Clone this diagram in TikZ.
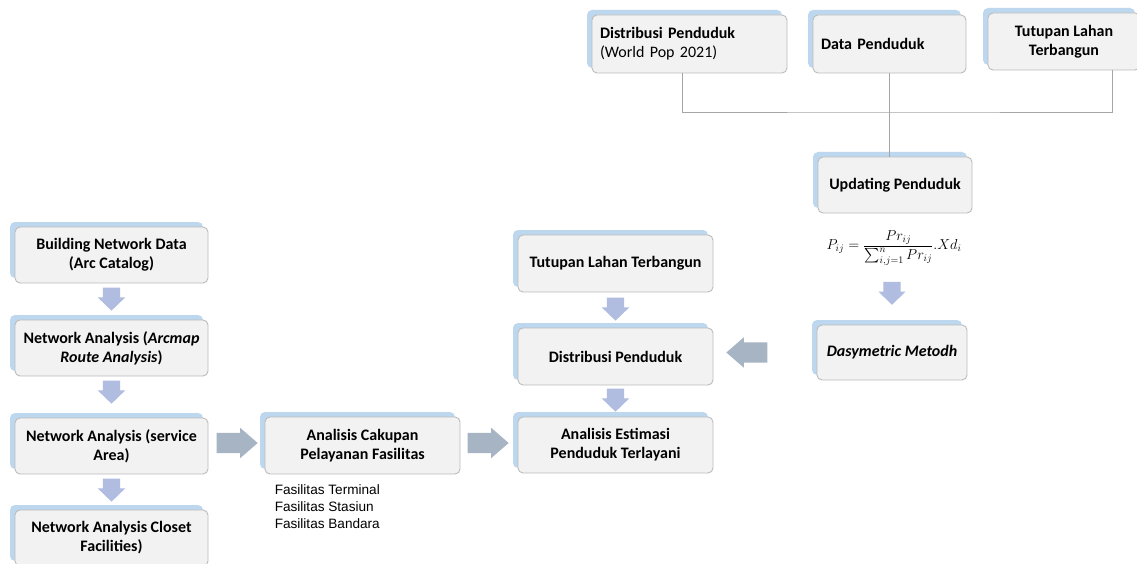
\documentclass[tikz,border=0pt]{standalone}
\usepackage{amsmath}
\usepackage{fontspec}
\setmainfont{Carlito}
\newfontfamily\listfont{Liberation Sans}
\usetikzlibrary{shapes.arrows,shadows,calc}

\definecolor{boxfill}{HTML}{F2F2F2}
\definecolor{boxline}{HTML}{BCBCBC}
\definecolor{boxshade}{HTML}{BDD7EE}
\definecolor{linkline}{HTML}{A6A6A6}
\definecolor{downfill}{HTML}{B0BCE0}
\definecolor{sidefill}{HTML}{A6B4C4}

\tikzset{
  stepbox/.style={draw=boxline, line width=0.9pt, fill=boxfill, rounded corners=5pt,
    font=\fontsize{16}{19}\selectfont\bfseries, align=center, inner sep=4pt,
    drop shadow={shadow xshift=-5pt, shadow yshift=5pt, fill=boxshade, opacity=1}},
  leftbox/.style={stepbox, align=left, inner xsep=8pt},
  downarrow/.style={single arrow, rotate=-90, anchor=tail, fill=downfill, draw=none,
    minimum height=23pt, minimum width=0pt, inner xsep=0pt, inner ysep=8.5pt,
    single arrow head extend=5pt, single arrow tip angle=92},
  sidearrow/.style={single arrow, anchor=tail, fill=sidefill, draw=none,
    minimum height=41pt, minimum width=0pt, inner xsep=0pt, inner ysep=10pt,
    single arrow head extend=5pt, single arrow tip angle=82},
  link/.style={draw=linkline, line width=0.9pt},
  listtext/.style={font=\listfont\fontsize{13.6}{16.8}\selectfont, align=left, inner sep=0pt}
}

\begin{document}
\begin{tikzpicture}[x=1pt, y=-1pt]
\useasboundingbox (0,0) rectangle (1137,564);
\fill[white] (0,0) rectangle (1137,564);
\clip (0,0) rectangle (1137,564);

% left column: network analysis chain
\node[stepbox, minimum width=193pt, minimum height=56pt] (bnd) at (111.5,255) {Building Network Data\\(Arc Catalog)};
\node[stepbox, minimum width=193pt, minimum height=56pt] (nar) at (111.5,348) {Network Analysis (\textit{Arcmap}\\\textit{Route Analysis})};
\node[stepbox, minimum width=193pt, minimum height=56pt] (nas) at (111.5,446) {Network Analysis (service\\Area)};
\node[stepbox, minimum width=193pt, minimum height=56pt] (nac) at (111.5,538) {Network Analysis Closet\\Facilities)};

% service coverage
\node[stepbox, minimum width=195pt, minimum height=57pt] (acp) at (362.5,445.5) {Analisis Cakupan\\Pelayanan Fasilitas};
\node[listtext, anchor=north west] (fac) at ($(acp.south west)+(10,10)$) {Fasilitas Terminal\\Fasilitas Stasiun\\Fasilitas Bandara};

% middle column
\node[stepbox, minimum width=195pt, minimum height=57pt] (tlm) at (615.5,263.5) {Tutupan Lahan Terbangun};
\node[stepbox, minimum width=195pt, minimum height=57pt] (dpm) at (615.5,356.5) {Distribusi Penduduk};
\node[stepbox, minimum width=195pt, minimum height=56pt] (aep) at (615.5,445) {Analisis Estimasi\\Penduduk Terlayani};

% population inputs
\node[leftbox, minimum width=195pt, minimum height=58pt, text width=179pt] (dist) at (689.5,44) {Distribusi Penduduk\\{\mdseries (World Pop 2021)}};
\node[leftbox, minimum width=153pt, minimum height=58pt, text width=137pt] (data) at (889.5,44) {Data Penduduk};
\node[stepbox, minimum width=152pt, minimum height=57pt] (tut) at (1064,41.5) {Tutupan Lahan\\Terbangun};

% population update and dasymetric method
\node[stepbox, minimum width=154pt, minimum height=56pt] (up) at (895,185) {Updating Penduduk};
\node[inner sep=0pt] (frm) at (894,248) {\fontsize{14.4}{17}\selectfont $P_{ij}=\dfrac{Pr_{ij}}{\sum\nolimits_{i,j=1}^{n}Pr_{ij}}.Xd_i$};
\node[stepbox, minimum width=150pt, minimum height=55pt] (dm) at (892,352.5) {\textit{Dasymetric Metodh}};

% thin connectors from the inputs
\coordinate (join) at (889.5,112);
\draw[link] ([xshift=-7.5pt]dist.south) |- (join) -| ([xshift=48pt]tut.south);
\draw[link] (data.south) -- (data.south |- up.north);

% block arrows
\node[downarrow] (a1) at ($(bnd.south)+(0,4)$) {};
\node[downarrow] (a2) at ($(nar.south)+(0,4)$) {};
\node[downarrow] (a3) at ($(nas.south)+(0,4)$) {};
\node[downarrow] (a4) at ($(tlm.south)+(0,5)$) {};
\node[downarrow] (a5) at ($(dpm.south)+(0,3)$) {};
\node[downarrow] (a6) at ($(dm.north)+(0,-43)$) {};
\node[sidearrow] (h1) at ($(nas.east)+(8,-3)$) {};
\node[sidearrow] (h2) at ($(acp.east)+(7,-2.5)$) {};
\node[sidearrow, shape border rotate=180] (h3) at ($(dm.west)+(-49,0)$) {};
\end{tikzpicture}
\end{document}
